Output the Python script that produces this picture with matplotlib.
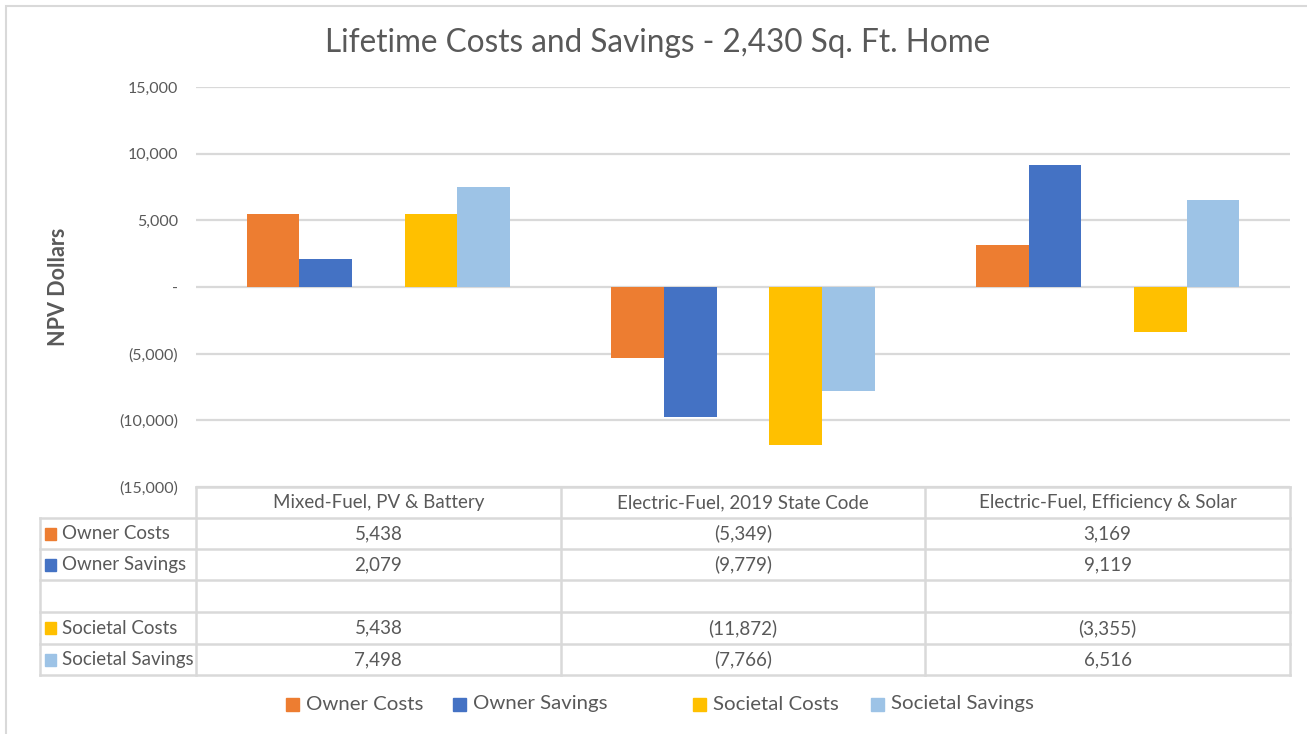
import matplotlib.pyplot as plt
import numpy as np
from matplotlib.patches import Rectangle

# data
categories = ["Mixed-Fuel, PV & Battery", "Electric-Fuel, 2019 State Code",
              "Electric-Fuel, Efficiency & Solar"]
series_names = ["Owner Costs", "Owner Savings", "", "Societal Costs", "Societal Savings"]
owner_costs = [5438, -5349, 3169]
owner_savings = [2079, -9779, 9119]
blank_series = [np.nan, np.nan, np.nan]
societal_costs = [5438, -11872, -3355]
societal_savings = [7498, -7766, 6516]
y_ticks = [15000, 10000, 5000, 0, -5000, -10000, -15000]

colors = ["#ED7D31", "#4472C4", "none", "#FFC000", "#9DC3E6"]
TXT = "#595959"
GRID = "#D9D9D9"
FONT = "Lato"

W, H = 1307, 734
fig = plt.figure(figsize=(W / 100, H / 100), dpi=100)


def fx(px):
    return px / W


def fy(py):
    return 1 - py / H


def fmt(v):
    if v == 0:
        return "-"
    if v < 0:
        return "({:,.0f})".format(-v)
    return "{:,.0f}".format(v)


# plot area (pixel box)
x0, x1 = 196, 1290
y_top, y_bot = 87, 487
ax = fig.add_axes([fx(x0), fy(y_bot), fx(x1 - x0), (y_bot - y_top) / H])

all_series = [owner_costs, owner_savings, blank_series, societal_costs, societal_savings]
n = len(all_series)
bw = 0.1445
x = np.arange(len(categories))
for i, vals in enumerate(all_series):
    if colors[i] == "none":
        continue
    ax.bar(x + (i - (n - 1) / 2) * bw, vals, bw, color=colors[i], zorder=3)

ax.set_xlim(-0.5, len(categories) - 0.5)
ax.set_ylim(-15000, 15000)
ax.set_yticks(y_ticks)
ax.set_yticklabels([fmt(v) for v in y_ticks], family=FONT, color=TXT, fontsize=11.5)
ax.set_xticks([])
ax.tick_params(axis="y", length=0, pad=13)
ax.grid(axis="y", color=GRID, linewidth=1.6, zorder=0)
for s in ax.spines.values():
    s.set_visible(False)
ax.set_ylabel("NPV Dollars", family=FONT, fontweight="bold", color=TXT,
              fontsize=15.5, labelpad=36)

# title
fig.text(fx(658), fy(43), "Lifetime Costs and Savings - 2,430 Sq. Ft. Home",
         family=FONT, fontsize=22.7, color=TXT, ha="center", va="center")

# outer border
fig.patches.append(Rectangle((fx(6), fy(740)), fx(1310 - 6), (740 - 6) / H,
                             transform=fig.transFigure, fill=False,
                             edgecolor=GRID, linewidth=1.5))

# data table
row_y = [487, 518, 549, 580, 612, 644, 675]
col_x = [x0, 560.7, 925.3, x1]
lab_x = 40


def hline(y, xa, xb):
    fig.add_artist(plt.Line2D([fx(xa), fx(xb)], [fy(y), fy(y)], color=GRID, lw=1.8))


def vline(xp, ya, yb):
    fig.add_artist(plt.Line2D([fx(xp), fx(xp)], [fy(ya), fy(yb)], color=GRID, lw=1.8))


hline(row_y[0], x0, x1)
for y in row_y[1:]:
    hline(y, lab_x, x1)
vline(lab_x, row_y[1], row_y[-1])
for xp in col_x:
    vline(xp, row_y[0], row_y[-1])

for j, cat in enumerate(categories):
    cx = (col_x[j] + col_x[j + 1]) / 2
    fig.text(fx(cx), fy((row_y[0] + row_y[1]) / 2), cat, family=FONT, fontsize=13.5,
             color=TXT, ha="center", va="center")

for i, (name, vals) in enumerate(zip(series_names, all_series)):
    yc = (row_y[i + 1] + row_y[i + 2]) / 2
    if name:
        fig.patches.append(Rectangle((fx(45), fy(yc + 6)), fx(11), 12 / H,
                                     transform=fig.transFigure, color=colors[i]))
        fig.text(fx(62), fy(yc), name, family=FONT, fontsize=13.5, color=TXT,
                 ha="left", va="center")
    for j, v in enumerate(vals):
        if np.isnan(v):
            continue
        cx = (col_x[j] + col_x[j + 1]) / 2
        fig.text(fx(cx), fy(yc), fmt(v), family=FONT, fontsize=13.5, color=TXT,
                 ha="center", va="center")

# legend
leg_x = [286, 453, None, 693, 871]
for i, name in enumerate(series_names):
    if not name:
        continue
    fig.patches.append(Rectangle((fx(leg_x[i]), fy(711)), fx(13), 13 / H,
                                 transform=fig.transFigure, color=colors[i]))
    fig.text(fx(leg_x[i] + 20), fy(704), name, family=FONT, fontsize=14.7, color=TXT,
             ha="left", va="center")

fig.savefig("out.png", dpi=100)
